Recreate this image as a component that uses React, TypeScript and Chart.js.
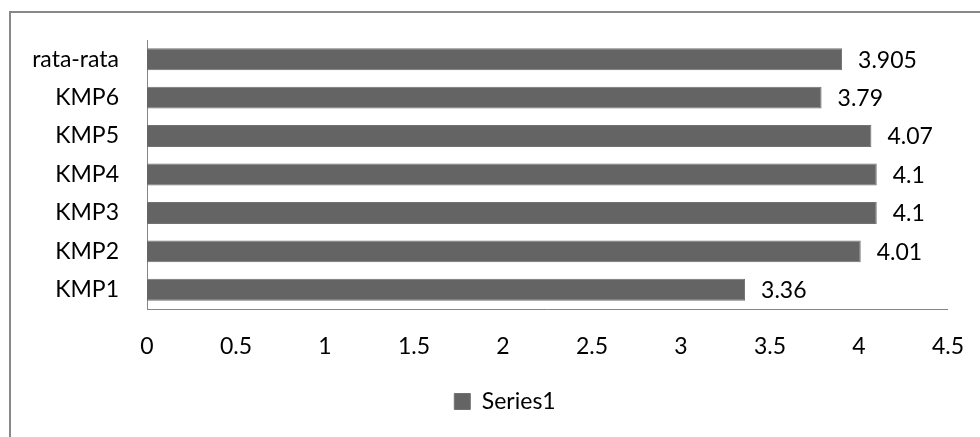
import React, { useEffect, useRef } from "react";
import { Chart, registerables } from "chart.js";

Chart.register(...registerables);

const categories = ["KMP1", "KMP2", "KMP3", "KMP4", "KMP5", "KMP6", "rata-rata"];
const series1 = [3.36, 4.01, 4.1, 4.1, 4.07, 3.79, 3.905];
const seriesName = "Series1";
const xMin = 0;
const xMax = 4.5;
const xStep = 0.5;

const FONT = "Lato, 'Open Sans', sans-serif";
const FONT_SIZE = 23;

const valueLabels = {
  id: "valueLabels",
  afterDatasetsDraw(chart: any) {
    const ctx = chart.ctx;
    ctx.save();
    ctx.font = `${FONT_SIZE}px ${FONT}`;
    ctx.fillStyle = "#000";
    ctx.textAlign = "left";
    ctx.textBaseline = "middle";
    chart.data.datasets.forEach((ds: any, di: number) => {
      const meta = chart.getDatasetMeta(di);
      meta.data.forEach((el: any, i: number) => {
        ctx.fillText(String(ds.data[i]), el.x + 16, el.y + 1);
      });
    });
    ctx.restore();
  },
};

const legendShift = {
  id: "legendShift",
  afterLayout(chart: any) {
    if (chart.legend) {
      chart.legend.left += 20;
      chart.legend.right += 20;
    }
  },
};

export default function App() {
  const ref = useRef<HTMLCanvasElement>(null);
  useEffect(() => {
    const chart = new Chart(ref.current!, {
      type: "bar",
      data: {
        labels: categories,
        datasets: [
          {
            label: seriesName,
            data: series1,
            backgroundColor: "#646464",
            borderColor: "#727272",
            borderWidth: 1,
            barPercentage: 0.57,
            categoryPercentage: 1,
          },
        ],
      },
      options: {
        indexAxis: "y",
        animation: false,
        responsive: false,
        maintainAspectRatio: false,
        layout: { padding: { left: 20, right: 30, top: 40, bottom: 14 } },
        plugins: {
          tooltip: { enabled: false },
          legend: {
            position: "bottom",
            labels: {
              boxWidth: 16,
              boxHeight: 16,
              padding: 10,
              color: "#000",
              font: { family: FONT, size: FONT_SIZE },
            },
          },
        },
        scales: {
          x: {
            min: xMin,
            max: xMax,
            grid: { display: false },
            border: { display: true, color: "#868686", width: 1 },
            ticks: {
              stepSize: xStep,
              padding: 16,
              color: "#000",
              font: { family: FONT, size: FONT_SIZE },
              callback: (v: any) => String(Number(v)),
            },
            afterFit(scale: any) {
              scale.height = 71;
            },
          },
          y: {
            reverse: true,
            grid: { display: false },
            border: { display: true, color: "#868686", width: 1 },
            ticks: {
              padding: 20,
              color: "#000",
              font: { family: FONT, size: FONT_SIZE },
            },
            afterFit(scale: any) {
              scale.width = 127;
            },
          },
        },
      },
      plugins: [valueLabels, legendShift],
    });
    return () => chart.destroy();
  }, []);

  return (
    <div style={{ position: "fixed", left: 0, top: 0, width: 980, height: 437, overflow: "hidden", background: "#fff" }}>
      <div
        style={{
          position: "absolute",
          left: 9,
          top: 11,
          width: 1200,
          height: 800,
          borderTop: "2px solid #888888",
          borderLeft: "2px solid #888888",
          boxSizing: "border-box",
        }}
      />
      <canvas ref={ref} width={980} height={437} style={{ position: "absolute", left: 0, top: 0 }} />
    </div>
  );
}
